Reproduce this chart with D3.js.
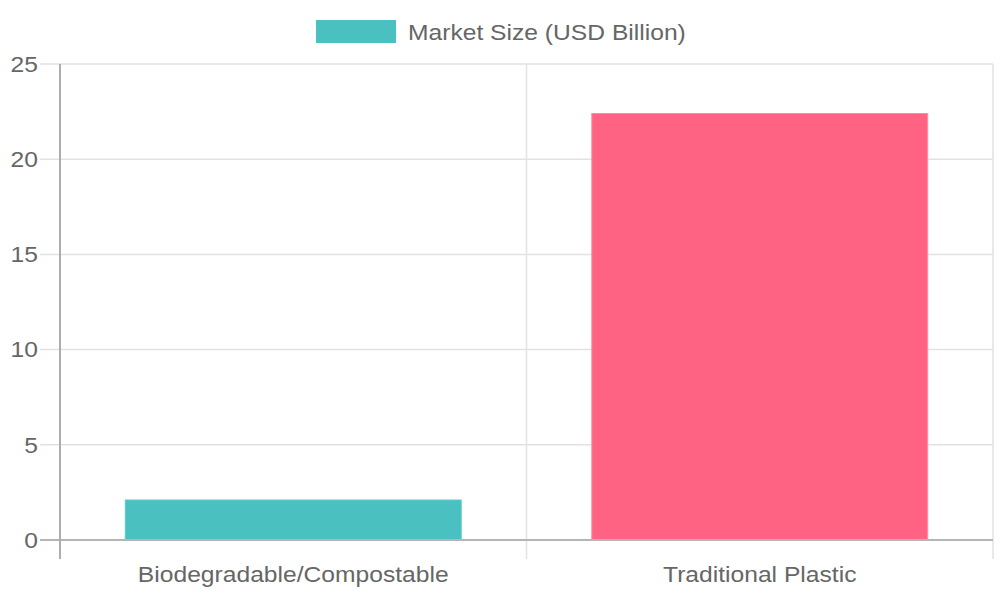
<!DOCTYPE html>
<html><head><meta charset="utf-8">
<script src="https://cdn.jsdelivr.net/npm/d3@7"></script>
<style>body{margin:0;background:#fff}svg{display:block}</style>
</head><body>
<svg id="c" width="1000" height="600"></svg>
<script>
const categories = ["Biodegradable/Compostable", "Traditional Plastic"];
const values = [2.1, 22.4];
const colors = ["#4BC0C0", "#FF6384"];
const borderColors = ["#5cc8c8", "#ff8aa3"];
const seriesName = "Market Size (USD Billion)";
const yTicks = [0, 5, 10, 15, 20, 25];

const svg = d3.select("#c");
const font = "'Liberation Sans', Arial, Helvetica, sans-serif";
const SX = 1.12; // horizontal stretch of text as in reference
const L = 60, R = 993, T = 64, B = 540;

const x = d3.scaleBand().domain(categories).range([L, R]).paddingInner(0.28).paddingOuter(0.14);
const y = d3.scaleLinear().domain([0, 25]).range([B, T]);

// horizontal grid
svg.append("g").selectAll("line").data(yTicks.filter(d => d !== 0)).join("line")
  .attr("x1", 40).attr("x2", R).attr("y1", d => y(d)).attr("y2", d => y(d))
  .attr("stroke", "#e2e2e2").attr("stroke-width", 1.5);

// vertical grid at category boundaries
const bounds = [(L + R) / 2, R];
svg.append("g").selectAll("line").data(bounds).join("line")
  .attr("x1", d => d).attr("x2", d => d).attr("y1", T).attr("y2", 559)
  .attr("stroke", "#e2e2e2").attr("stroke-width", 1.5);

// y labels
svg.append("g").selectAll("text").data(yTicks).join("text")
  .attr("transform", d => `translate(38,${y(d)}) scale(${SX},1)`).attr("dy", "0.35em")
  .attr("text-anchor", "end").attr("font-family", font).attr("font-size", 22)
  .attr("fill", "#666").text(d => d);

// bars
svg.append("g").selectAll("rect").data(categories).join("rect")
  .attr("x", d => x(d)).attr("width", x.bandwidth())
  .attr("y", (d, i) => y(values[i])).attr("height", (d, i) => B - y(values[i]))
  .attr("fill", (d, i) => colors[i]).attr("stroke", (d, i) => borderColors[i]).attr("stroke-width", 1);

// axis lines
svg.append("line").attr("x1", 40).attr("x2", R).attr("y1", y(0)).attr("y2", y(0))
  .attr("stroke", "#b5b5b5").attr("stroke-width", 2);
svg.append("line").attr("x1", L).attr("x2", L).attr("y1", T).attr("y2", 559)
  .attr("stroke", "#adadad").attr("stroke-width", 2);

// x labels
svg.append("g").selectAll("text").data(categories).join("text")
  .attr("transform", d => `translate(${x(d) + x.bandwidth() / 2},582) scale(${SX},1)`)
  .attr("text-anchor", "middle").attr("font-family", font).attr("font-size", 22)
  .attr("fill", "#666").text(d => d);

// legend
svg.append("rect").attr("x", 316).attr("y", 20).attr("width", 80).attr("height", 23).attr("fill", colors[0]);
svg.append("text").attr("transform", `translate(408,32) scale(${SX},1)`).attr("dy", "0.35em")
  .attr("font-family", font).attr("font-size", 22).attr("fill", "#666").text(seriesName);
</script>
</body></html>
